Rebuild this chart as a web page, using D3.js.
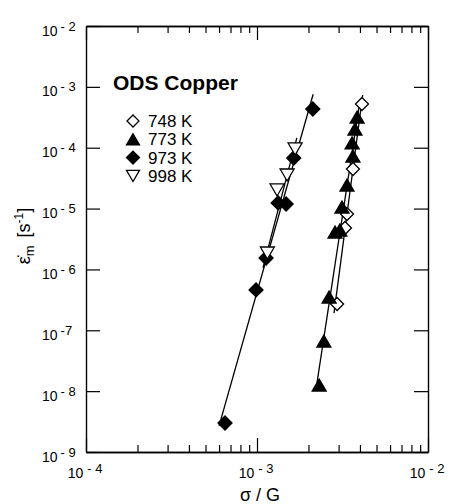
<!DOCTYPE html>
<html><head><meta charset="utf-8">
<script src="https://cdn.jsdelivr.net/npm/d3@7"></script>
<style>
body{margin:0;background:#fff}
text{font-family:"Liberation Sans",Arial,Helvetica,sans-serif;fill:#000}
</style>
</head><body>
<svg id="chart" width="450" height="504"></svg>
<script>
// ---- data ----
const seriesNames = ["748 K", "773 K", "973 K", "998 K"];
const xTickValues = [1e-4, 1e-3, 1e-2];
const xTickSups = ["- 4", "- 3", "- 2"];
const yTickValues = [1e-2, 1e-3, 1e-4, 1e-5, 1e-6, 1e-7, 1e-8, 1e-9];
const yTickSups = ["- 2", "- 3", "- 4", "- 5", "- 6", "-7", "- 8", "- 9"];

const x748 = [4.11e-3, 3.64e-3, 3.36e-3, 3.27e-3, 2.94e-3];
const y748 = [5.23e-4, 4.47e-5, 8.15e-6, 4.80e-6, 2.70e-7];

const x773 = [2.31e-3, 2.46e-3, 2.64e-3, 2.86e-3, 3.05e-3, 3.14e-3, 3.36e-3, 3.64e-3, 3.60e-3, 3.74e-3, 3.85e-3];
const y773 = [1.26e-8, 6.67e-8, 3.52e-7, 4.12e-6, 4.45e-6, 1.06e-5, 2.44e-5, 7.31e-5, 1.20e-4, 2.03e-4, 3.20e-4];

const x973 = [6.50e-4, 9.87e-4, 1.13e-3, 1.33e-3, 1.48e-3, 1.64e-3, 2.12e-3];
const y973 = [3.0e-9, 4.6e-7, 1.54e-6, 1.24e-5, 1.19e-5, 6.78e-5, 4.33e-4];

const x998 = [1.15e-3, 1.31e-3, 1.50e-3, 1.67e-3];
const y998 = [1.86e-6, 2.02e-5, 3.56e-5, 9.53e-5];

// fitted lines (end points)
const fit748X = [2.82e-3, 4.15e-3], fit748Y = [1.92e-7, 7.35e-4];
const fit773X = [2.21e-3, 3.95e-3], fit773Y = [1.04e-8, 4.67e-4];
const fit973X = [6.0e-4, 2.13e-3],  fit973Y = [2.68e-9, 7.55e-4];
const fit998X = [1.084e-3, 1.71e-3], fit998Y = [1.06e-6, 1.45e-4];

// ---- layout ----
const svg = d3.select("#chart");
const L = 86, R = 428, T = 26, B = 452;
const x = d3.scaleLog().domain([1e-4, 1e-2]).range([L, R]);
const y = d3.scaleLog().domain([1e-9, 1e-2]).range([B, T]);

// symbol paths
const sym = {
  diamond: r => `M0,${-r}L${r},0L0,${r}L${-r},0Z`,
  up: r => `M0,${-r*0.86}L${r},${r*0.86}L${-r},${r*0.86}Z`,
  down: r => `M0,${r*0.86}L${r},${-r*0.86}L${-r},${-r*0.86}Z`
};
const styles = [
  {name: seriesNames[0], xs: x748, ys: y748, fx: fit748X, fy: fit748Y, shape: "diamond", fill: "#fff", r: 6.5},
  {name: seriesNames[1], xs: x773, ys: y773, fx: fit773X, fy: fit773Y, shape: "up", fill: "#000", r: 7},
  {name: seriesNames[2], xs: x973, ys: y973, fx: fit973X, fy: fit973Y, shape: "diamond", fill: "#000", r: 7},
  {name: seriesNames[3], xs: x998, ys: y998, fx: fit998X, fy: fit998Y, shape: "down", fill: "#fff", r: 7}
];

// axes (ticks inward)
const minorX = [];
[1e-4, 1e-3].forEach(d => { for (let k = 2; k <= 9; k++) minorX.push(d * k); });

function axisG(axis, tr) {
  const g = svg.append("g").attr("transform", tr).call(axis);
  g.selectAll("text").remove();
  g.select(".domain").attr("stroke", "#000").attr("stroke-width", 1.4);
  g.selectAll(".tick line").attr("stroke", "#000").attr("stroke-width", 1.2);
  return g;
}
axisG(d3.axisBottom(x).tickValues(xTickValues).tickSizeInner(-14).tickSizeOuter(0), `translate(0,${B})`);
axisG(d3.axisBottom(x).tickValues(minorX).tickSizeInner(-7).tickSizeOuter(0), `translate(0,${B})`);
axisG(d3.axisTop(x).tickValues(xTickValues).tickSizeInner(-14).tickSizeOuter(0), `translate(0,${T})`);
axisG(d3.axisTop(x).tickValues(minorX).tickSizeInner(-7).tickSizeOuter(0), `translate(0,${T})`);
axisG(d3.axisLeft(y).tickValues(yTickValues).tickSizeInner(-14).tickSizeOuter(0), `translate(${L},0)`);
axisG(d3.axisRight(y).tickValues(yTickValues).tickSizeInner(-14).tickSizeOuter(0), `translate(${R},0)`);

// tick labels
yTickValues.forEach((v, i) => {
  const t = svg.append("text").attr("x", 42).attr("y", y(v) + 9.5).style("font-size", "14px");
  t.append("tspan").text("10");
  t.append("tspan").attr("dx", 3).attr("dy", -5).style("font-size", "13px").text(yTickSups[i]);
});
xTickValues.forEach((v, i) => {
  const t = svg.append("text").attr("x", x(v) - 1).attr("y", 478).attr("text-anchor", "middle").style("font-size", "14px");
  t.append("tspan").text("10");
  t.append("tspan").attr("dx", 4).attr("dy", -5).style("font-size", "13px").text(xTickSups[i]);
});

// axis titles
svg.append("text").attr("x", 260).attr("y", 501).attr("text-anchor", "middle")
  .style("font-size", "18px").text("σ / G");
const yt = svg.append("text").attr("transform", "translate(30,236) rotate(-90)")
  .attr("text-anchor", "middle").style("font-size", "18px");
yt.append("tspan").text("ε\u0307");
yt.append("tspan").attr("dy", 4).style("font-size", "13px").text("m");
yt.append("tspan").attr("dy", -4).attr("dx", 8).text("[s");
yt.append("tspan").attr("dy", -7).style("font-size", "12px").text("-1");
yt.append("tspan").attr("dy", 7).text("]");

// fit lines
const line = d3.line().x(d => x(d[0])).y(d => y(d[1]));
styles.forEach(s => {
  svg.append("path").datum(d3.zip(s.fx, s.fy)).attr("d", line)
    .attr("fill", "none").attr("stroke", "#000").attr("stroke-width", 1.3);
});

// markers
styles.forEach(s => {
  svg.append("g").selectAll("path").data(d3.zip(s.xs, s.ys)).join("path")
    .attr("transform", d => `translate(${x(d[0])},${y(d[1])})`)
    .attr("d", sym[s.shape](s.r))
    .attr("fill", s.fill).attr("stroke", "#000").attr("stroke-width", 1.3);
});

// legend
svg.append("text").attr("x", 113).attr("y", 90).style("font-size", "21px").style("font-weight", "bold").text("ODS Copper");
styles.forEach((s, i) => {
  const cy = 121 + i * 18.3;
  svg.append("path").attr("transform", `translate(133,${cy})`).attr("d", sym[s.shape](s.r - 0.5))
    .attr("fill", s.fill).attr("stroke", "#000").attr("stroke-width", 1.3);
  svg.append("text").attr("x", 148).attr("y", cy + 6).style("font-size", "17px").text(s.name);
});
</script>
</body></html>
